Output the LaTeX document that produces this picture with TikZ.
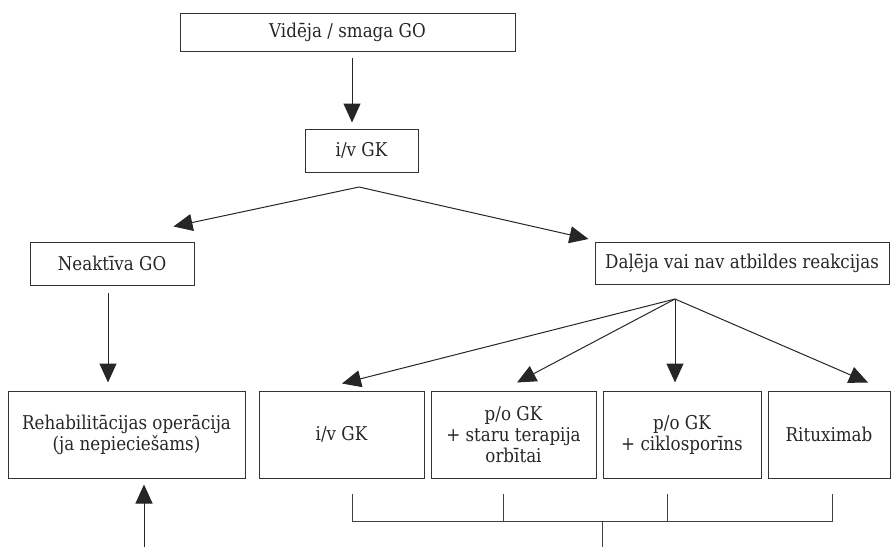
\documentclass[tikz,border=0pt]{standalone}
\usepackage{fontspec}
\setmainfont{DejaVu Serif}[FakeStretch=0.88]
\usetikzlibrary{arrows.meta, calc}

\begin{document}
\begin{tikzpicture}[
    x=1pt, y=-1pt,
    % Step style
    stepbox/.style={
        rectangle,
        draw=black!80,
        line width=1pt,
        text=black!85,
        font=\fontsize{19}{21}\selectfont,
        align=center,
        inner sep=0pt
    },
    arrow/.style={
        -{Triangle[length=19pt, width=17pt]},
        line width=1pt,
        black!85
    },
    bracket/.style={
        line width=1pt,
        black!75
    }
]
\useasboundingbox (0,0) rectangle (891,547);

% === Row 1: start ===
\node[stepbox, minimum width=335pt, minimum height=38pt] (start) at (347.5, 32) {Vidēja / smaga GO};
\node[stepbox, minimum width=113pt, minimum height=43pt] (ivgk) at (361.5, 150.5) {i/v GK};

\draw[arrow] ($(start.south)+(4.5,6)$) -- ($(start.south |- ivgk.north)+(4.5,-6)$);

% === Row 2: response ===
\node[stepbox, minimum width=164pt, minimum height=43pt] (inactive) at (112, 263.5) {Neaktīva GO};
\node[stepbox, minimum width=294pt, minimum height=42pt] (partial) at (742, 263.5) {Daļēja vai nav atbildes reakcijas};

\coordinate (split1) at (359, 187);
\draw[arrow] (split1) -- ($(inactive.north east)+(-21,-15)$);
\draw[arrow] (split1) -- ($(partial.north west)+(-6,-3)$);

% === Row 3: treatment ===
\node[stepbox, minimum width=237pt, minimum height=87pt] (rehab) at (126.5, 434.5) {Rehabilitācijas operācija\\(ja nepieciešams)};
\node[stepbox, minimum width=165pt, minimum height=87pt] (ivgkb) at (341.5, 434.5) {i/v GK};
\node[stepbox, minimum width=165pt, minimum height=87pt] (radio) at (513.5, 434.5) {p/o GK\\+ staru terapija\\orbītai};
\node[stepbox, minimum width=158pt, minimum height=87pt] (cyclo) at (682, 434.5) {p/o GK\\+ ciklosporīns};
\node[stepbox, minimum width=122pt, minimum height=87pt] (ritux) at (829, 434.5) {Rituximab};

\draw[arrow] ($(inactive.south)+(-4,7)$) -- ($(inactive.south |- rehab.north)+(-4,-8)$);

\coordinate (split2) at (675, 299);
\draw[arrow] (split2) -- ($(ivgkb.north)+(0.5,-7)$);
\draw[arrow] (split2) -- ($(radio.north)+(3.5,-8)$);
\draw[arrow] (split2) -- ($(cyclo.north)+(-7,-8)$);
\draw[arrow] (split2) -- ($(ritux.north)+(39,-8)$);

% === Bracket under treatments ===
\coordinate (b1) at ($(ivgkb.south)+(10.5,15)$);
\coordinate (b2) at ($(radio.south)+(-10.5,15)$);
\coordinate (b3) at ($(cyclo.south)+(-15,15)$);
\coordinate (b4) at ($(ritux.south)+(3,15)$);
\coordinate (bar) at (602, 521);
\coordinate (barend) at (602, 547);
\draw[bracket] (b1) -- (b1 |- bar) -- (b4 |- bar) -- (b4);
\draw[bracket] (b2) -- (b2 |- bar);
\draw[bracket] (b3) -- (b3 |- bar);
\draw[bracket] (bar) -- (barend);

% === Feed into rehab ===
\coordinate (feed) at (144, 547);
\draw[arrow] (feed) -- ($(rehab.south)+(17.5,6)$);

\end{tikzpicture}
\end{document}
